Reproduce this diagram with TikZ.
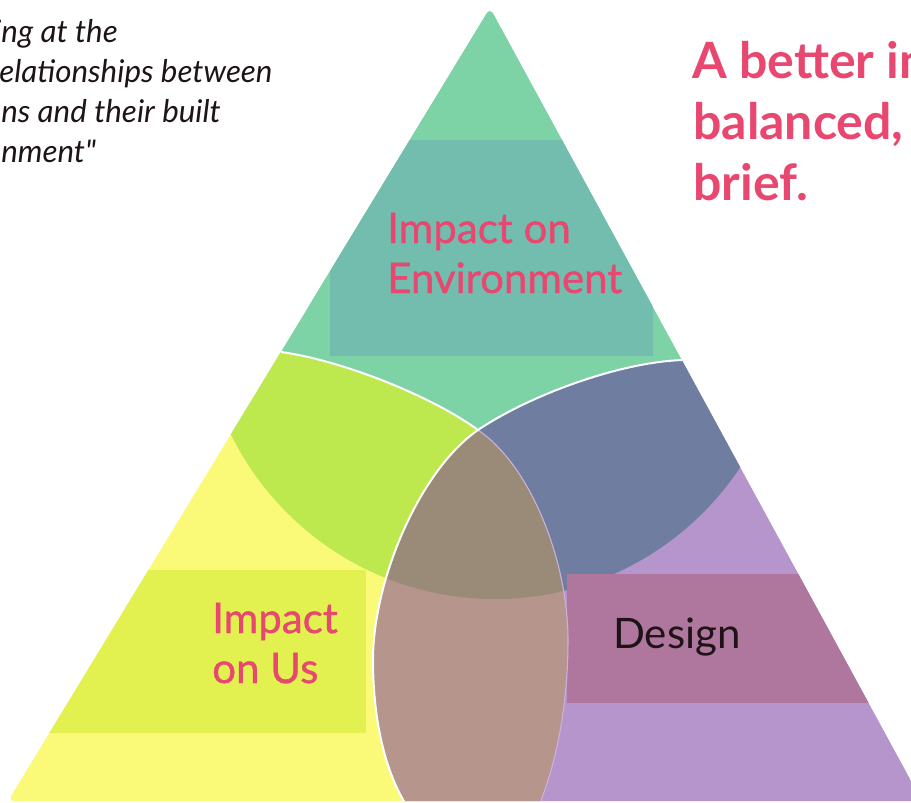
\documentclass[tikz,border=0pt]{standalone}
\usepackage{fontspec}
\setmainfont{Lato}
\newfontfamily\labelfont[FakeBold=0.9]{Lato}
\newfontfamily\quotefont[Ligatures=TeXOff]{Lato}
\definecolor{cgreen}{HTML}{7DD3A5}
\definecolor{cteal}{HTML}{73BDAF}
\definecolor{cyellow}{HTML}{FAFA78}
\definecolor{cyrect}{HTML}{E2F050}
\definecolor{clime}{HTML}{BDE84E}
\definecolor{cpurple}{HTML}{B595CC}
\definecolor{cprect}{HTML}{B0779E}
\definecolor{cbluegray}{HTML}{6F7EA0}
\definecolor{cbrown}{HTML}{998B77}
\definecolor{clens}{HTML}{B5958C}
\definecolor{cpink}{HTML}{E8476F}
\definecolor{cdark}{HTML}{1E1418}
\definecolor{cfaint}{HTML}{CDB0DD}
\def\tri{(490,8) -- (922,801) -- (8,801) -- cycle}
\def\greenA{(0,0) rectangle (911,305)}
\def\greenB{(495,305) circle [radius=220.5pt]}
\def\ypath{(100,330) -- (281,352) .. controls (340,360) and (430,395) .. (478,430) .. controls (530,465) and (568,560) .. (568,640) .. controls (568,710) and (555,765) .. (540,803) -- (525,850) -- (-50,850) -- (-50,330) -- cycle}
\def\ppath{(950,330) -- (800,340) -- (683,360) .. controls (620,362) and (530,395) .. (478,430) .. controls (420,470) and (373,580) .. (373,660) .. controls (373,720) and (385,770) .. (405,803) -- (420,850) -- (950,850) -- cycle}
\newcommand\fillgreenshape[1]{\fill[#1] \greenA; \fill[#1] \greenB;}
\tikzset{
  outline/.style={draw=white, line width=1.5pt},
  faintline/.style={draw=cfaint, line width=0.8pt},
  lbl/.style={inner sep=0pt, anchor=base west, font=\fontsize{31.5}{36}\selectfont},
  pinklbl/.style={lbl, text=cpink, font=\fontsize{31.5}{36}\labelfont},
  quote/.style={inner sep=0pt, anchor=base west, font=\fontsize{23.5}{30}\selectfont\itshape, text=cdark},
  headline/.style={inner sep=0pt, anchor=base west, font=\fontsize{37.5}{45}\selectfont\bfseries, text=cpink}
}
\begin{document}
\begin{tikzpicture}[x=0.75pt,y=-0.75pt]
\useasboundingbox (0,0) rectangle (911,803);
\clip (0,0) rectangle (911,803);
\begin{scope}
  \clip[rounded corners=5pt] \tri;
  \fillgreenshape{cgreen}
  \fill[cteal] (330,140) rectangle (653,356);
  \fill[cyellow] \ypath;
  \fill[cpurple] \ppath;
  \begin{scope}\clip \ypath; \fillgreenshape{clime}\end{scope}
  \begin{scope}\clip \ppath; \fillgreenshape{cbluegray}\end{scope}
  \begin{scope}\clip \ypath; \fill[cyrect] (0,570) rectangle (366,733);\end{scope}
  \begin{scope}\clip \ppath; \fill[cprect] (567,574) rectangle (930,703);\end{scope}
  \begin{scope}
    \clip \ypath; \clip \ppath;
    \fill[clens] (300,400) rectangle (700,810);
    \fillgreenshape{cbrown}
  \end{scope}
  \draw[outline] (281,352) .. controls (340,360) and (430,395) .. (478,430);
  \draw[faintline] (478,430) .. controls (530,465) and (568,560) .. (568,640) .. controls (568,710) and (555,765) .. (540,803);
  \draw[outline] (683,360) .. controls (620,362) and (530,395) .. (478,430) .. controls (420,470) and (373,580) .. (373,660) .. controls (373,720) and (385,770) .. (405,803);
\end{scope}
\node[pinklbl] (env1) at (387,243) {Impact on};
\node[pinklbl] (env2) at (387,293) {Environment};
\node[pinklbl] (us1) at (212,633) {Impact};
\node[pinklbl] (us2) at (212,683) {on Us};
\node[lbl, text=cdark] (design) at (613,648) {Design};
\node[quote] (q1) at (-6,42) {ing at the};
\node[quote] (q2) at (-1,82) {elationships between};
\node[quote] (q3) at (1,122) {ns and their built};
\node[quote] (q4) at (1,162) {nment{\quotefont\itshape"}};
\node[headline] (h1) at (692,78) {A better in};
\node[headline] (h2) at (693,139) {balanced,};
\node[headline] (h3) at (693,200) {brief.};
\end{tikzpicture}
\end{document}
